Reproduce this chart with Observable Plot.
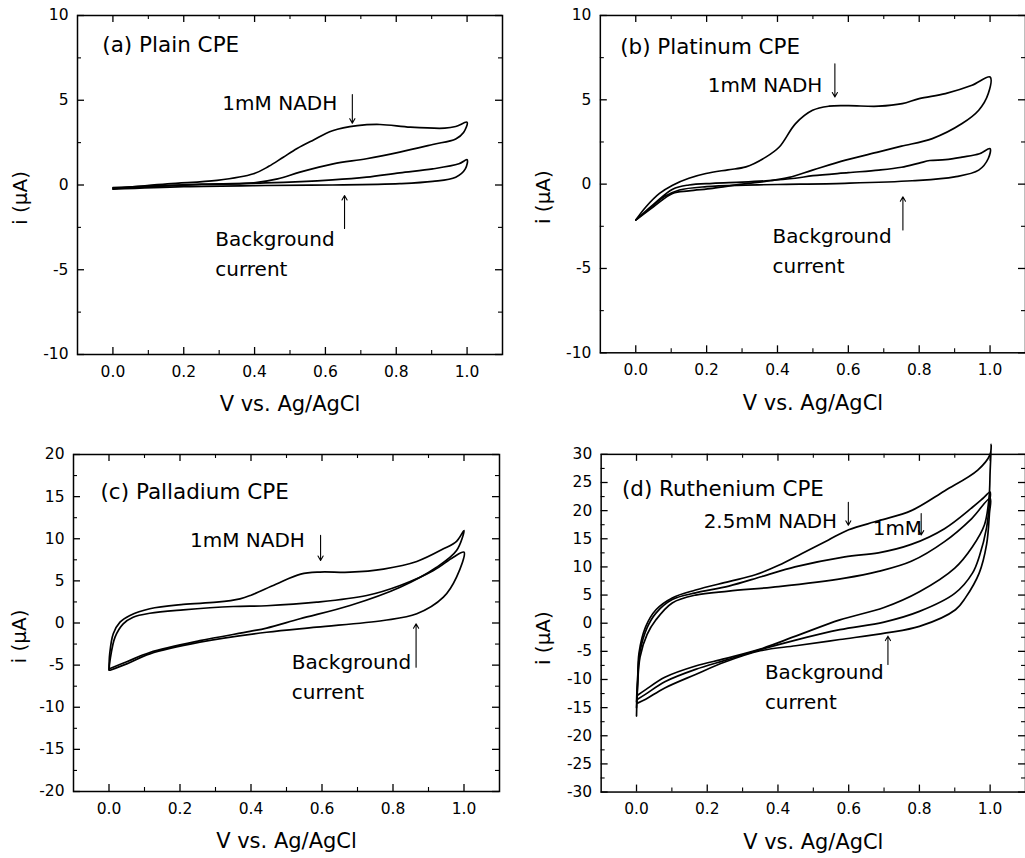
<!DOCTYPE html>
<html><head><meta charset="utf-8">
<script src="https://cdn.jsdelivr.net/npm/d3@7"></script>
<script src="https://cdn.jsdelivr.net/npm/@observablehq/plot@0.6"></script>
<style>
body{margin:0;background:#fff;}
#fig{position:relative;width:1025px;height:858px;overflow:hidden;background:#fff;}
.panel{position:absolute;}
.panel svg{overflow:visible;display:block;}
</style></head><body><div id="fig"></div>
<script>
// ---------- tick values & labels ----------
const xTicks = [0, 0.2, 0.4, 0.6, 0.8, 1.0];
const xTickLabels = ["0.0", "0.2", "0.4", "0.6", "0.8", "1.0"];
const xMinor = [0.1, 0.3, 0.5, 0.7, 0.9];
const yTicks10 = [-10, -5, 0, 5, 10];
const yTickLabels10 = ["-10", "-5", "0", "5", "10"];
const yMinor10 = [-7.5, -2.5, 2.5, 7.5];
const yTicks20 = [-20, -15, -10, -5, 0, 5, 10, 15, 20];
const yTickLabels20 = ["-20", "-15", "-10", "-5", "0", "5", "10", "15", "20"];
const yMinor20 = [-17.5, -12.5, -7.5, -2.5, 2.5, 7.5, 12.5, 17.5];
const yTicks30 = [-30, -25, -20, -15, -10, -5, 0, 5, 10, 15, 20, 25, 30];
const yTickLabels30 = ["-30", "-25", "-20", "-15", "-10", "-5", "0", "5", "10", "15", "20", "25", "30"];
const yMinor30 = [-27.5, -22.5, -17.5, -12.5, -7.5, -2.5, 2.5, 7.5, 12.5, 17.5, 22.5, 27.5];

// ---------- (a) Plain CPE ----------
const aNadhFwdV = [0, 0.154, 0.294, 0.397, 0.44, 0.481, 0.52, 0.564, 0.62, 0.69, 0.754, 0.84, 0.937, 0.968, 1.0];
const aNadhFwdI = [-0.22, 0.07, 0.27, 0.66, 1.1, 1.64, 2.15, 2.63, 3.2, 3.5, 3.57, 3.41, 3.35, 3.45, 3.7];
const aNadhRevV = [1.0, 0.99, 0.968, 0.903, 0.81, 0.716, 0.622, 0.528, 0.465, 0.39, 0.25, 0];
const aNadhRevI = [3.7, 3.1, 2.72, 2.39, 1.94, 1.55, 1.25, 0.76, 0.36, 0.11, 0.03, -0.2];
const aBgFwdV = [0, 0.25, 0.43, 0.62, 0.716, 0.81, 0.903, 0.977, 1.0];
const aBgFwdI = [-0.15, 0.05, 0.12, 0.3, 0.46, 0.72, 0.95, 1.25, 1.49];
const aBgRevV = [1.0, 0.995, 0.968, 0.903, 0.81, 0.62, 0.43, 0.2, 0];
const aBgRevI = [1.49, 0.95, 0.46, 0.21, 0.08, 0.0, -0.03, -0.1, -0.25];

// ---------- (b) Platinum CPE ----------
const bNadhFwdV = [0, 0.029, 0.067, 0.104, 0.15, 0.198, 0.26, 0.311, 0.367, 0.405, 0.451, 0.499, 0.545, 0.6, 0.686, 0.752, 0.8, 0.874, 0.949, 1.0];
const bNadhFwdI = [-2.13, -1.34, -0.55, -0.06, 0.35, 0.63, 0.85, 1.02, 1.6, 2.2, 3.59, 4.38, 4.62, 4.65, 4.62, 4.77, 5.07, 5.37, 5.86, 6.35];
const bNadhRevV = [1.0, 0.995, 0.968, 0.921, 0.837, 0.75, 0.686, 0.592, 0.499, 0.433, 0.38, 0.3, 0.217, 0.15, 0.104, 0.05, 0];
const bNadhRevI = [6.35, 5.37, 4.38, 3.59, 2.7, 2.25, 1.91, 1.42, 0.83, 0.4, 0.2, 0.0, -0.25, -0.4, -0.55, -1.34, -2.13];
const bBgFwdV = [0, 0.05, 0.104, 0.15, 0.217, 0.3, 0.367, 0.45, 0.5, 0.6, 0.686, 0.75, 0.8, 0.83, 0.874, 0.921, 0.97, 1.0];
const bBgFwdI = [-2.13, -1.2, -0.3, -0.05, 0.05, 0.12, 0.2, 0.35, 0.5, 0.68, 0.83, 1.0, 1.25, 1.4, 1.45, 1.6, 1.8, 2.1];
const bBgRevV = [1.0, 0.995, 0.968, 0.9, 0.78, 0.59, 0.4, 0.31, 0.2, 0.123, 0.08, 0.05, 0];
const bBgRevI = [2.1, 1.52, 0.83, 0.43, 0.2, 0.05, -0.02, -0.06, -0.15, -0.35, -0.75, -1.24, -2.13];

// ---------- (c) Palladium CPE ----------
const cNadhFwdV = [0, 0.002, 0.012, 0.031, 0.059, 0.115, 0.209, 0.303, 0.369, 0.4, 0.47, 0.54, 0.594, 0.679, 0.773, 0.867, 0.942, 0.979, 1.0];
const cNadhFwdI = [-5.5, -3.66, -1.28, 0.1, 0.89, 1.69, 2.2, 2.47, 2.87, 3.3, 4.6, 5.8, 6.05, 6.03, 6.4, 7.3, 8.8, 9.7, 10.98];
const cNadhRevV = [1.0, 0.979, 0.923, 0.82, 0.679, 0.538, 0.444, 0.397, 0.256, 0.115, 0.05, 0.003];
const cNadhRevI = [10.98, 8.6, 6.62, 4.25, 2.08, 0.5, -0.6, -1.0, -2.1, -3.5, -4.6, -5.4];
const cBgFwdV = [0, 0.003, 0.017, 0.04, 0.068, 0.115, 0.209, 0.35, 0.444, 0.585, 0.726, 0.82, 0.914, 0.97, 1.0];
const cBgFwdI = [-5.6, -4.4, -1.68, -0.1, 0.69, 1.16, 1.56, 1.96, 2.05, 2.47, 3.26, 4.45, 6.23, 7.81, 8.4];
const cBgRevV = [1.0, 0.979, 0.942, 0.867, 0.773, 0.585, 0.444, 0.256, 0.115, 0.05, 0.003];
const cBgRevI = [8.4, 5.44, 3.06, 1.09, 0.3, -0.5, -1.1, -2.28, -3.66, -4.85, -5.6];

// ---------- (d) Ruthenium CPE ----------
const d25FwdV = [0, 0.001, 0.003, 0.007, 0.026, 0.055, 0.101, 0.167, 0.261, 0.336, 0.402, 0.468, 0.543, 0.6, 0.684, 0.777, 0.871, 0.965, 1.0, 1.003];
const d25FwdI = [-16.5, -14, -11.2, -5.3, -0.6, 2.4, 4.5, 5.9, 7.4, 8.6, 10.3, 12.4, 14.8, 16.6, 18.2, 20.0, 23.5, 27.2, 30.0, 31.8];
const d25RevV = [1.003, 1.0, 0.997, 0.984, 0.95, 0.9, 0.8, 0.7, 0.575, 0.45, 0.35, 0.25, 0.167, 0.08, 0.026, 0.003];
const d25RevI = [31.8, 27, 22.4, 17.5, 13.6, 9.8, 5.6, 2.8, 0.6, -2.3, -4.6, -6.3, -7.6, -9.6, -11.8, -12.8];
const d1FwdV = [0, 0.003, 0.01, 0.03, 0.055, 0.101, 0.167, 0.261, 0.355, 0.448, 0.589, 0.684, 0.777, 0.871, 0.95, 0.98, 1.0];
const d1FwdI = [-14, -10, -5, -0.8, 1.8, 4.2, 5.4, 6.6, 8.3, 10.0, 11.8, 12.5, 14.0, 16.8, 20.6, 22.2, 23.3];
const d1RevV = [1.0, 0.998, 0.99, 0.97, 0.95, 0.9, 0.8, 0.7, 0.575, 0.45, 0.35, 0.25, 0.167, 0.08, 0.026, 0.003];
const d1RevI = [23.3, 21.3, 17, 12, 8.9, 5.3, 2.1, 0.2, -1.15, -3.0, -4.7, -6.6, -8.2, -10.4, -12.6, -13.5];
const dBgFwdV = [0, 0.003, 0.01, 0.03, 0.055, 0.101, 0.167, 0.261, 0.402, 0.589, 0.684, 0.777, 0.871, 0.948, 1.0];
const dBgFwdI = [-15, -11, -6, -2, 0.6, 3.6, 5.0, 5.7, 6.5, 8.0, 9.2, 11.0, 14.5, 18.6, 22.2];
const dBgRevV = [1.0, 0.998, 0.99, 0.969, 0.93, 0.902, 0.8, 0.706, 0.575, 0.45, 0.35, 0.25, 0.167, 0.08, 0.026, 0.003];
const dBgRevI = [22.2, 19.5, 14, 8.9, 4.5, 2.39, -0.57, -1.73, -2.9, -4.0, -4.9, -6.9, -9.1, -11.5, -13.5, -14.2];

// ---------- helpers ----------
function loop(name, fv, fi, rv, ri) {
  const rows = [];
  fv.forEach((v, k) => rows.push({loop: name, v, i: fi[k]}));
  rv.forEach((v, k) => { if (k > 0) rows.push({loop: name, v, i: ri[k]}); });
  return rows;
}
const FONT = "DejaVu Sans, Liberation Sans, Arial, sans-serif";

function panel(cfg) {
  const {left, top, width, height, mL, mR, mT, mB, yDomain, yTicks, yLabels, yMinor, rows, title, notes, arrows, yLabDx, yLabDy} = cfg;
  const iw = width - mL - mR, ih = height - mT - mB;
  const MAJ = 7, MIN = 4;
  const p = Plot.plot({
    width, height, marginLeft: mL, marginRight: mR, marginTop: mT, marginBottom: mB,
    style: {fontFamily: FONT, fontSize: "15.5px", color: "black", background: "transparent", overflow: "visible"},
    x: {domain: [-0.1, 1.1]},
    y: {domain: yDomain},
    marks: [
      Plot.frame({stroke: "black", strokeWidth: 1.5}),
      // inward ticks, bottom/top/left/right
      Plot.tickX(xTicks, {x: d => d, insetTop: ih - MAJ, strokeWidth: 1.3}),
      Plot.tickX(xMinor, {x: d => d, insetTop: ih - MIN, strokeWidth: 1.1}),
      Plot.tickX(xTicks, {x: d => d, insetBottom: ih - MAJ, strokeWidth: 1.3}),
      Plot.tickX(xMinor, {x: d => d, insetBottom: ih - MIN, strokeWidth: 1.1}),
      Plot.tickY(yTicks, {y: d => d, insetRight: iw - MAJ, strokeWidth: 1.3}),
      Plot.tickY(yMinor, {y: d => d, insetRight: iw - MIN, strokeWidth: 1.1}),
      Plot.tickY(yTicks, {y: d => d, insetLeft: iw - MAJ, strokeWidth: 1.3}),
      Plot.tickY(yMinor, {y: d => d, insetLeft: iw - MIN, strokeWidth: 1.1}),
      Plot.axisX({ticks: xTicks, tickFormat: d => xTickLabels[xTicks.indexOf(d)], tickSize: 0, tickPadding: 11, label: null, fontSize: 15.5}),
      Plot.axisY({ticks: yTicks, tickFormat: d => yLabels[yTicks.indexOf(d)], tickSize: 0, tickPadding: 9, label: null, fontSize: 15.5}),
      Plot.text(["V vs. Ag/AgCl"], {frameAnchor: "bottom", dy: 42, lineAnchor: "top", textAnchor: "middle", fontSize: 21}),
      Plot.text(["i (\u03bcA)"], {frameAnchor: "left", rotate: -90, dx: yLabDx, dy: yLabDy, textAnchor: "middle", lineAnchor: "middle", fontSize: 20}),
      Plot.line(rows, {x: "v", y: "i", z: "loop", curve: "catmull-rom", stroke: "black", strokeWidth: 1.7}),
      Plot.text([title], {x: "v", y: "i", text: "t", textAnchor: "start", lineAnchor: "bottom", fontSize: 21.5}),
      Plot.text(notes, {x: "v", y: "i", text: "t", textAnchor: "start", lineAnchor: "bottom", lineHeight: 1.5, fontSize: 20}),
      Plot.arrow(arrows, {x1: "v1", y1: "i1", x2: "v2", y2: "i2", stroke: "black", strokeWidth: 1.1, headLength: 7})
    ]
  });
  const div = document.createElement("div");
  div.className = "panel";
  div.style.left = left + "px";
  div.style.top = top + "px";
  div.appendChild(p);
  document.getElementById("fig").appendChild(div);
}

panel({
  left: 0, top: 0, width: 512, height: 420, mL: 77, mR: 10, mT: 15, mB: 66,
  yDomain: [-10, 10], yTicks: yTicks10, yLabels: yTickLabels10, yMinor: yMinor10,
  yLabDx: -57, yLabDy: 13,
  rows: [...loop("nadh", aNadhFwdV, aNadhFwdI, aNadhRevV, aNadhRevI), ...loop("bg", aBgFwdV, aBgFwdI, aBgRevV, aBgRevI)],
  title: {v: -0.03, i: 7.82, t: "(a) Plain CPE"},
  notes: [{v: 0.309, i: 4.4, t: "1mM NADH"}, {v: 0.289, i: -5.34, t: "Background\ncurrent"}],
  arrows: [{v1: 0.676, i1: 5.34, v2: 0.676, i2: 3.65}, {v1: 0.654, i1: -2.57, v2: 0.654, i2: -0.62}]
});

panel({
  left: 512, top: 0, width: 514, height: 420, mL: 88, mR: 0, mT: 15, mB: 67,
  yDomain: [-10, 10], yTicks: yTicks10, yLabels: yTickLabels10, yMinor: yMinor10,
  yLabDx: -57, yLabDy: 13,
  rows: [...loop("nadh", bNadhFwdV, bNadhFwdI, bNadhRevV, bNadhRevI), ...loop("bg", bBgFwdV, bBgFwdI, bBgRevV, bBgRevI)],
  title: {v: -0.044, i: 7.73, t: "(b) Platinum CPE"},
  notes: [{v: 0.203, i: 5.46, t: "1mM NADH"}, {v: 0.386, i: -5.28, t: "Background\ncurrent"}],
  arrows: [{v1: 0.562, i1: 7.14, v2: 0.562, i2: 5.17}, {v1: 0.754, i1: -2.72, v2: 0.754, i2: -0.75}]
});

panel({
  left: 0, top: 420, width: 512, height: 438, mL: 73, mR: 13, mT: 34, mB: 67,
  yDomain: [-20, 20], yTicks: yTicks20, yLabels: yTickLabels20, yMinor: yMinor20,
  yLabDx: -54, yLabDy: 13.5,
  rows: [...loop("nadh", cNadhFwdV, cNadhFwdI, cNadhRevV, cNadhRevI), ...loop("bg", cBgFwdV, cBgFwdI, cBgRevV, cBgRevI)],
  title: {v: -0.024, i: 14.74, t: "(c) Palladium CPE"},
  notes: [{v: 0.228, i: 9.0, t: "1mM NADH"}, {v: 0.515, i: -9.0, t: "Background\ncurrent"}],
  arrows: [{v1: 0.596, i1: 10.4, v2: 0.596, i2: 7.42}, {v1: 0.865, i1: -5.24, v2: 0.865, i2: -0.1}]
});

panel({
  left: 512, top: 420, width: 515, height: 438, mL: 89, mR: 0, mT: 34, mB: 65,
  yDomain: [-30, 30], yTicks: yTicks30, yLabels: yTickLabels30, yMinor: yMinor30,
  yLabDx: -58, yLabDy: 15,
  rows: [...loop("n25", d25FwdV, d25FwdI, d25RevV, d25RevI), ...loop("n1", d1FwdV, d1FwdI, d1RevV, d1RevI), ...loop("bg", dBgFwdV, dBgFwdI, dBgRevV, dBgRevI)],
  title: {v: -0.041, i: 22.57, t: "(d) Ruthenium CPE"},
  notes: [{v: 0.19, i: 16.85, t: "2.5mM NADH"}, {v: 0.668, i: 15.66, t: "1mM"}, {v: 0.363, i: -15.3, t: "Background\ncurrent"}],
  arrows: [{v1: 0.599, i1: 21.5, v2: 0.599, i2: 17.4}, {v1: 0.805, i1: 19.5, v2: 0.805, i2: 15.66}, {v1: 0.711, i1: -7.35, v2: 0.711, i2: -2.3}]
});
</script></body></html>
